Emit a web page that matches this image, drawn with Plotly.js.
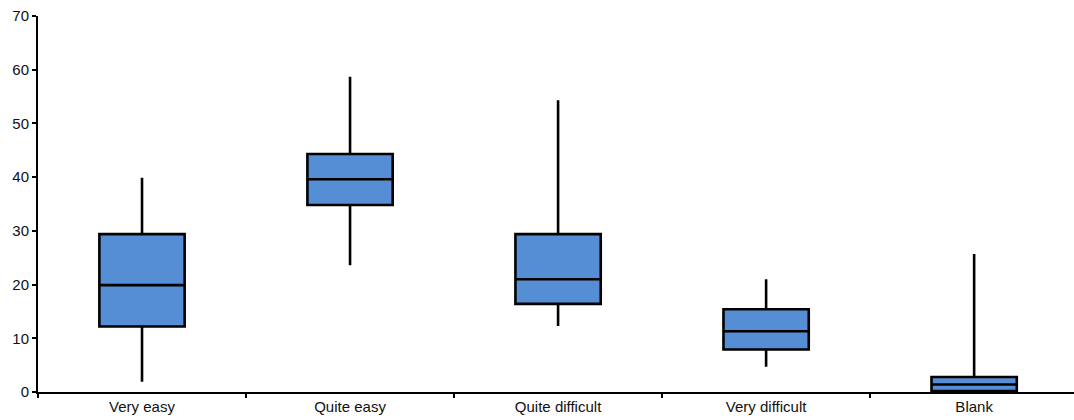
<!DOCTYPE html>
<html>
<head>
<meta charset="utf-8">
<script src="https://cdn.plot.ly/plotly-3.0.1.min.js"></script>
<style>html,body{margin:0;padding:0;background:#fff;}#chart{width:1074px;height:420px;}</style>
</head>
<body>
<div id="chart"></div>
<script>
const categories = ["Very easy", "Quite easy", "Quite difficult", "Very difficult", "Blank"];
const lowerWhisker = [1.9, 23.6, 12.3, 4.7, 0];
const q1Values = [12.2, 34.8, 16.4, 7.9, 0.2];
const medianValues = [19.9, 39.6, 21.0, 11.3, 1.4];
const q3Values = [29.4, 44.3, 29.4, 15.4, 2.8];
const upperWhisker = [39.9, 58.7, 54.3, 21.0, 25.7];
const yTicks = [0, 10, 20, 30, 40, 50, 60, 70];

const trace = {
  type: "box",
  x: categories,
  q1: q1Values,
  median: medianValues,
  q3: q3Values,
  lowerfence: lowerWhisker,
  upperfence: upperWhisker,
  boxpoints: false,
  whiskerwidth: 0,
  width: 0.41,
  fillcolor: "#558ED5",
  line: { color: "#000000", width: 2.6 },
  hoverinfo: "skip",
  showlegend: false
};

const layout = {
  width: 1074,
  height: 420,
  margin: { l: 38, r: 0, t: 16, b: 28 },
  paper_bgcolor: "#ffffff",
  plot_bgcolor: "#ffffff",
  font: { family: "Liberation Sans, Arial, sans-serif", size: 15, color: "#000000" },
  xaxis: {
    type: "category",
    range: [-0.5, 4.48],
    showgrid: false,
    zeroline: false,
    showline: true,
    linecolor: "#000000",
    linewidth: 2,
    ticks: "outside",
    tickson: "boundaries",
    ticklen: 4,
    tickwidth: 2,
    tickcolor: "#000000",
    tickfont: { size: 15, color: "#111111" }
  },
  yaxis: {
    range: [0, 70],
    tickvals: yTicks,
    ticktext: yTicks.map(String),
    showgrid: false,
    zeroline: false,
    showline: true,
    linecolor: "#000000",
    linewidth: 2,
    ticks: "outside",
    ticklen: 4,
    tickwidth: 2,
    tickcolor: "#000000",
    tickfont: { size: 15, color: "#111111" }
  }
};

Plotly.newPlot("chart", [trace], layout, { displayModeBar: false, staticPlot: true });
</script>
</body>
</html>
